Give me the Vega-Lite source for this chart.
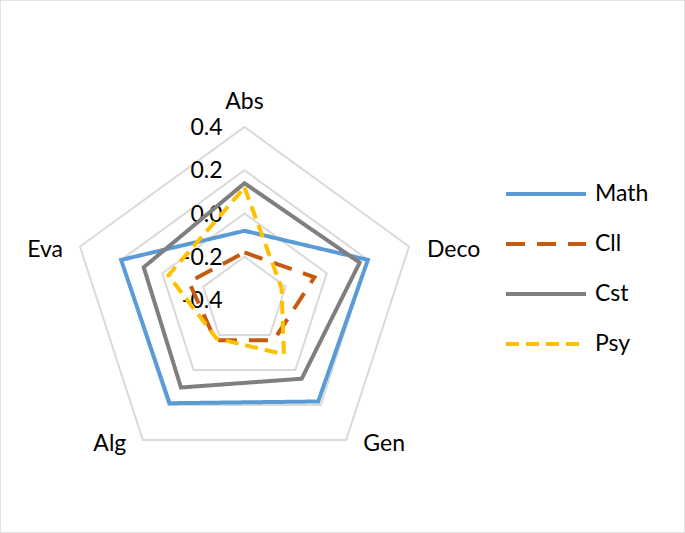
{
  "$schema": "https://vega.github.io/schema/vega-lite/v6.json",
  "width": 685,
  "height": 533,
  "autosize": "none",
  "padding": 0,
  "background": "white",
  "config": {
    "view": {"stroke": "#D9D9D9", "strokeWidth": 1.5},
    "text": {"font": "Lato", "fontSize": 23, "fill": "#000000"}
  },
  "datasets": {
    "scores": [
      {"series": "Math", "axis": "Abs", "value": -0.08},
      {"series": "Math", "axis": "Deco", "value": 0.2},
      {"series": "Math", "axis": "Gen", "value": 0.18},
      {"series": "Math", "axis": "Alg", "value": 0.19},
      {"series": "Math", "axis": "Eva", "value": 0.2},
      {"series": "Cll", "axis": "Abs", "value": -0.18},
      {"series": "Cll", "axis": "Deco", "value": -0.06},
      {"series": "Cll", "axis": "Gen", "value": -0.17},
      {"series": "Cll", "axis": "Alg", "value": -0.17},
      {"series": "Cll", "axis": "Eva", "value": -0.13},
      {"series": "Cst", "axis": "Abs", "value": 0.14},
      {"series": "Cst", "axis": "Deco", "value": 0.16},
      {"series": "Cst", "axis": "Gen", "value": 0.05},
      {"series": "Cst", "axis": "Alg", "value": 0.1},
      {"series": "Cst", "axis": "Eva", "value": 0.09},
      {"series": "Psy", "axis": "Abs", "value": 0.12},
      {"series": "Psy", "axis": "Deco", "value": -0.22},
      {"series": "Psy", "axis": "Gen", "value": -0.09},
      {"series": "Psy", "axis": "Alg", "value": -0.18},
      {"series": "Psy", "axis": "Eva", "value": -0.03}
    ],
    "grid": [
      {"level": -0.2, "axis": ["Abs", "Deco", "Gen", "Alg", "Eva"]},
      {"level": 0.0, "axis": ["Abs", "Deco", "Gen", "Alg", "Eva"]},
      {"level": 0.2, "axis": ["Abs", "Deco", "Gen", "Alg", "Eva"]},
      {"level": 0.4, "axis": ["Abs", "Deco", "Gen", "Alg", "Eva"]}
    ],
    "ticks": [
      {"value": -0.4, "label": "-0.4", "axis": "Abs"},
      {"value": -0.2, "label": "-0.2", "axis": "Abs"},
      {"value": 0.0, "label": "0.0", "axis": "Abs"},
      {"value": 0.2, "label": "0.2", "axis": "Abs"},
      {"value": 0.4, "label": "0.4", "axis": "Abs"}
    ],
    "axes": [
      {"axis": "Abs", "value": 0.4},
      {"axis": "Deco", "value": 0.4},
      {"axis": "Gen", "value": 0.4},
      {"axis": "Alg", "value": 0.4},
      {"axis": "Eva", "value": 0.4}
    ]
  },
  "layer": [
    {
      "data": {"name": "grid"},
      "transform": [
        {"flatten": ["axis"]},
        {"calculate": "indexof(['Abs','Deco','Gen','Alg','Eva'], datum.axis)", "as": "k"},
        {"calculate": "(datum.level + 0.4) / 0.8", "as": "r"},
        {"calculate": "datum.r * sin(datum.k * 2 * PI / 5)", "as": "X"},
        {"calculate": "datum.r * cos(datum.k * 2 * PI / 5)", "as": "Y"}
      ],
      "mark": {"type": "line", "interpolate": "linear-closed", "stroke": "#D9D9D9", "strokeWidth": 2},
      "encoding": {
        "x": {"field": "X", "type": "quantitative", "scale": {"domain": [-1.4133, 2.5462], "nice": false, "zero": false}, "axis": null},
        "y": {"field": "Y", "type": "quantitative", "scale": {"domain": [-1.3468, 1.7341], "nice": false, "zero": false}, "axis": null},
        "detail": {"field": "level", "type": "nominal"},
        "order": {"field": "k", "type": "quantitative"}
      }
    },
    {
      "data": {"name": "ticks"},
      "transform": [
        {"calculate": "(datum.value + 0.4) / 0.8", "as": "Y"},
        {"calculate": "0", "as": "X"}
      ],
      "mark": {"type": "text", "align": "right", "baseline": "middle", "dx": -22, "dy": 1},
      "encoding": {
        "x": {"field": "X", "type": "quantitative"},
        "y": {"field": "Y", "type": "quantitative"},
        "text": {"field": "label"}
      }
    },
    {
      "data": {"name": "scores"},
      "transform": [
        {"calculate": "indexof(['Abs','Deco','Gen','Alg','Eva'], datum.axis)", "as": "k"},
        {"calculate": "(datum.value + 0.4) / 0.8", "as": "r"},
        {"calculate": "datum.r * sin(datum.k * 2 * PI / 5)", "as": "X"},
        {"calculate": "datum.r * cos(datum.k * 2 * PI / 5)", "as": "Y"}
      ],
      "mark": {"type": "line", "interpolate": "linear-closed", "strokeWidth": 4, "strokeJoin": "miter"},
      "encoding": {
        "x": {"field": "X", "type": "quantitative"},
        "y": {"field": "Y", "type": "quantitative"},
        "order": {"field": "k", "type": "quantitative"},
        "color": {
          "field": "series",
          "type": "nominal",
          "scale": {"domain": ["Math", "Cll", "Cst", "Psy"], "range": ["#5B9BD5", "#C55A11", "#7F7F7F", "#FFC000"]},
          "legend": {
            "title": null,
            "orient": "none",
            "legendX": 517,
            "legendY": 165,
            "symbolType": "M-1.5,0H1.5",
            "symbolSize": 2844,
            "symbolStrokeWidth": 4,
            "labelFont": "Lato",
            "labelFontSize": 23,
            "labelColor": "#000000",
            "labelOffset": 20,
            "rowPadding": 9,
            "padding": 0
          }
        },
        "strokeDash": {
          "field": "series",
          "type": "nominal",
          "scale": {"domain": ["Math", "Cll", "Cst", "Psy"], "range": [[1, 0], [19, 12], [1, 0], [13, 7]]},
          "legend": null
        }
      }
    },
    {
      "data": {"name": "axes"},
      "transform": [
        {"filter": "datum.axis === 'Abs'"},
        {"calculate": "0", "as": "X"},
        {"calculate": "1", "as": "Y"}
      ],
      "mark": {"type": "text", "align": "center", "baseline": "alphabetic", "dy": -18},
      "encoding": {
        "x": {"field": "X", "type": "quantitative"},
        "y": {"field": "Y", "type": "quantitative"},
        "text": {"field": "axis"}
      }
    },
    {
      "data": {"name": "axes"},
      "transform": [
        {"filter": "datum.axis === 'Deco'"},
        {"calculate": "sin(2 * PI / 5)", "as": "X"},
        {"calculate": "cos(2 * PI / 5)", "as": "Y"}
      ],
      "mark": {"type": "text", "align": "left", "baseline": "alphabetic", "dx": 18, "dy": 10.5},
      "encoding": {
        "x": {"field": "X", "type": "quantitative"},
        "y": {"field": "Y", "type": "quantitative"},
        "text": {"field": "axis"}
      }
    },
    {
      "data": {"name": "axes"},
      "transform": [
        {"filter": "datum.axis === 'Eva'"},
        {"calculate": "sin(8 * PI / 5)", "as": "X"},
        {"calculate": "cos(8 * PI / 5)", "as": "Y"}
      ],
      "mark": {"type": "text", "align": "right", "baseline": "alphabetic", "dx": -17, "dy": 10.5},
      "encoding": {
        "x": {"field": "X", "type": "quantitative"},
        "y": {"field": "Y", "type": "quantitative"},
        "text": {"field": "axis"}
      }
    },
    {
      "data": {"name": "axes"},
      "transform": [
        {"filter": "datum.axis === 'Gen'"},
        {"calculate": "sin(4 * PI / 5)", "as": "X"},
        {"calculate": "cos(4 * PI / 5)", "as": "Y"}
      ],
      "mark": {"type": "text", "align": "center", "baseline": "alphabetic", "dx": 38, "dy": 11.5},
      "encoding": {
        "x": {"field": "X", "type": "quantitative"},
        "y": {"field": "Y", "type": "quantitative"},
        "text": {"field": "axis"}
      }
    },
    {
      "data": {"name": "axes"},
      "transform": [
        {"filter": "datum.axis === 'Alg'"},
        {"calculate": "sin(6 * PI / 5)", "as": "X"},
        {"calculate": "cos(6 * PI / 5)", "as": "Y"}
      ],
      "mark": {"type": "text", "align": "center", "baseline": "alphabetic", "dx": -33, "dy": 11},
      "encoding": {
        "x": {"field": "X", "type": "quantitative"},
        "y": {"field": "Y", "type": "quantitative"},
        "text": {"field": "axis"}
      }
    }
  ]
}
